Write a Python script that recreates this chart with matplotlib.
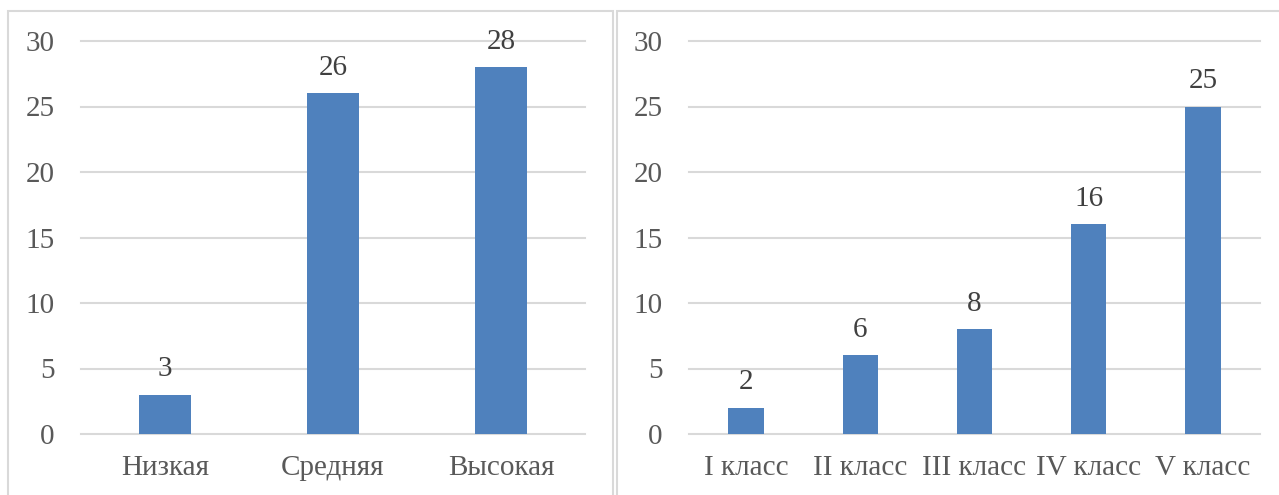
import matplotlib.pyplot as plt
from matplotlib.patches import Rectangle

left_cats = ["Низкая", "Средняя", "Высокая"]
left_vals = [3, 26, 28]
right_cats = ["I класс", "II класс", "III класс", "IV класс", "V класс"]
right_vals = [2, 6, 8, 16, 25]

W, H = 1279, 495
bar_color = "#4F81BD"
text_color = "#595959"
grid_color = "#D9D9D9"
fs = 21

plt.rcParams["font.family"] = ["Liberation Serif", "DejaVu Serif"]

fig = plt.figure(figsize=(W / 100, H / 100), dpi=100)

# panel borders
for x0, x1 in [(8, 613), (617, 1285)]:
    fig.patches.append(Rectangle((x0 / W, -0.1), (x1 - x0) / W, (H - 11) / H + 0.1,
                                 transform=fig.transFigure, fill=False,
                                 edgecolor=grid_color, linewidth=1.5))


def panel(x0, x1, cats, vals):
    ax = fig.add_axes([x0 / W, (H - 434) / H, (x1 - x0) / W, (434 - 41) / H])
    xs = range(len(cats))
    ax.bar(xs, vals, width=0.31, color=bar_color, zorder=3)
    ax.set_xlim(-0.5, len(cats) - 0.5)
    ax.set_ylim(0, 30)
    ticks = [0, 5, 10, 15, 20, 25, 30]
    for t in ticks:
        ax.axhline(t, color=grid_color, linewidth=1.5, zorder=1, clip_on=False)
    ax.set_yticks(ticks)
    ax.set_xticks(list(xs))
    ax.set_xticklabels(cats)
    ax.tick_params(axis="y", length=0, pad=19, labelsize=fs, labelcolor=text_color)
    ax.tick_params(axis="x", length=0, pad=15, labelsize=fs, labelcolor=text_color)
    for s in ax.spines.values():
        s.set_visible(False)
    for x, v in zip(xs, vals):
        ax.annotate(str(v), (x, v), xytext=(0, 9), textcoords="offset points",
                    ha="center", va="bottom", fontsize=fs, color="#404040")
    return ax


panel(81, 585, left_cats, left_vals)
panel(689, 1260, right_cats, right_vals)

fig.savefig("out.png", dpi=100)
